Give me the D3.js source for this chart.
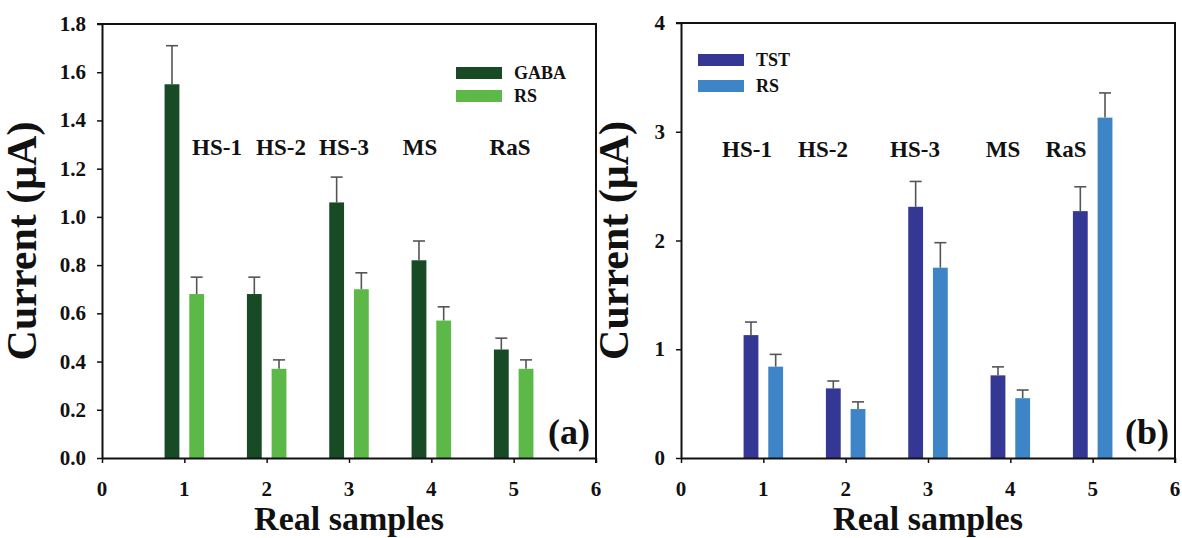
<!DOCTYPE html>
<html><head><meta charset="utf-8">
<script src="https://cdn.jsdelivr.net/npm/d3@7"></script>
<style>
body{margin:0;background:#fff;}
</style></head>
<body><svg id="c" width="1182" height="538"></svg>
<script>
const samples = [1, 2, 3, 4, 5];
const sampleNames = ["HS-1", "HS-2", "HS-3", "MS", "RaS"];
const xTicks = [0, 1, 2, 3, 4, 5, 6];

// Panel (a)
const gabaValues = [1.55, 0.68, 1.06, 0.82, 0.45];
const gabaErr = [0.16, 0.07, 0.105, 0.08, 0.047];
const rsAValues = [0.68, 0.37, 0.70, 0.57, 0.37];
const rsAErr = [0.07, 0.037, 0.068, 0.057, 0.037];
const yTicksA = [0, 0.2, 0.4, 0.6, 0.8, 1.0, 1.2, 1.4, 1.6, 1.8];

// Panel (b)
const tstValues = [1.13, 0.64, 2.31, 0.76, 2.27];
const tstErr = [0.12, 0.068, 0.233, 0.078, 0.224];
const rsBValues = [0.84, 0.45, 1.75, 0.55, 3.13];
const rsBErr = [0.113, 0.066, 0.23, 0.075, 0.227];
const yTicksB = [0, 1, 2, 3, 4];

const FONT = "'Liberation Serif', 'Times New Roman', 'DejaVu Serif', serif";
const svg = d3.select("#c");

function txt(parent, x, y, str, size, anchor, rot){
  return parent.append("text")
    .attr("transform", rot ? `translate(${x},${y}) rotate(-90)` : `translate(${x},${y})`)
    .attr("text-anchor", anchor || "middle")
    .style("font-family", FONT).style("font-weight", "bold").style("font-size", size + "px")
    .attr("fill", "#111").text(str);
}

function panel(cfg){
  const g = svg.append("g");
  const x = d3.scaleLinear().domain([0,6]).range([cfg.left, cfg.right]);
  const y = d3.scaleLinear().domain([0, cfg.ymax]).range([cfg.bottom, cfg.top]);
  const bw = x(0.18) - x(0);
  const off = 0.15;
  const series = [
    {vals: cfg.s1, err: cfg.e1, color: cfg.c1, d: -off},
    {vals: cfg.s2, err: cfg.e2, color: cfg.c2, d: off}
  ];
  series.forEach(s => {
    const eg = g.append("g");
    eg.selectAll("line.v").data(samples).join("line")
      .attr("x1", d=>x(d+s.d)).attr("x2", d=>x(d+s.d))
      .attr("y1",(d,i)=>y(s.vals[i])).attr("y2",(d,i)=>y(s.vals[i]+s.err[i]))
      .attr("stroke","#555").attr("stroke-width",1.6);
    eg.selectAll("line.c").data(samples).join("line")
      .attr("x1",d=>x(d+s.d)-6).attr("x2",d=>x(d+s.d)+6)
      .attr("y1",(d,i)=>y(s.vals[i]+s.err[i])).attr("y2",(d,i)=>y(s.vals[i]+s.err[i]))
      .attr("stroke","#555").attr("stroke-width",1.6);
    g.append("g").selectAll("rect").data(samples).join("rect")
      .attr("x",d=>x(d+s.d)-bw/2).attr("width",bw)
      .attr("y",(d,i)=>y(s.vals[i])).attr("height",(d,i)=>y(0)-y(s.vals[i]))
      .attr("fill",s.color);
  });
  g.append("line").attr("x1",x(0)-5).attr("x2",x(6)+1).attr("y1",y(cfg.ymax)).attr("y2",y(cfg.ymax)).attr("stroke","#111").attr("stroke-width",2);
  g.append("line").attr("x1",x(6)).attr("x2",x(6)).attr("y1",y(cfg.ymax)).attr("y2",y(0)+5).attr("stroke","#111").attr("stroke-width",2);
  const ax = g.append("g").attr("transform",`translate(0,${y(0)})`)
    .call(d3.axisBottom(x).tickValues(xTicks).tickSize(5).tickSizeOuter(0).tickFormat(""));
  const ay = g.append("g").attr("transform",`translate(${x(0)},0)`)
    .call(d3.axisLeft(y).tickValues(cfg.yTicks).tickSize(5).tickSizeOuter(0).tickFormat(""));
  [ax, ay].forEach(a => {
    a.select(".domain").attr("stroke","#111").attr("stroke-width",2);
    a.selectAll(".tick line").attr("stroke","#111").attr("stroke-width",1.5);
  });
  xTicks.forEach(v => txt(g, x(v), y(0)+38, d3.format("d")(v), 21, "middle"));
  cfg.yTicks.forEach(v => txt(g, x(0)-16, y(v)+7, cfg.fmt(v), 21, "end"));
  txt(g, (x(0)+x(6))/2, cfg.bottom+72, "Real samples", 34, "middle");
  txt(g, cfg.ytitleX, (cfg.top+cfg.bottom)/2, "Current (μA)", 42, "middle", true);
  sampleNames.forEach((n,i) => txt(g, cfg.labelX[i], cfg.labelY, n, 23, "middle"));
  [[cfg.n1,cfg.c1],[cfg.n2,cfg.c2]].forEach((l,i)=>{
    g.append("rect").attr("x",cfg.legX).attr("y",cfg.legY+i*cfg.legDY-6).attr("width",46).attr("height",12).attr("fill",l[1]);
    txt(g, cfg.legX+58, cfg.legY+i*cfg.legDY+6, l[0], 18, "start");
  });
  txt(g, x(6)-6, cfg.bottom-14, cfg.letter, 36, "end");
}

panel({left:102,right:596,top:24,bottom:458,ymax:1.8,yTicks:yTicksA,fmt:d3.format(".1f"),
  s1:gabaValues,e1:gabaErr,s2:rsAValues,e2:rsAErr,c1:"#174a25",c2:"#5cb948",n1:"GABA",n2:"RS",
  labelX:[217,281,344,420,510],labelY:155,legX:456,legY:73,legDY:23,letter:"(a)",ytitleX:36});
panel({left:681,right:1175,top:23,bottom:458,ymax:4,yTicks:yTicksB,fmt:d3.format("d"),
  s1:tstValues,e1:tstErr,s2:rsBValues,e2:rsBErr,c1:"#343894",c2:"#3d85c6",n1:"TST",n2:"RS",
  labelX:[747,823,915,1003,1066],labelY:157,legX:698,legY:60,legDY:26,letter:"(b)",ytitleX:628});
</script></body></html>
